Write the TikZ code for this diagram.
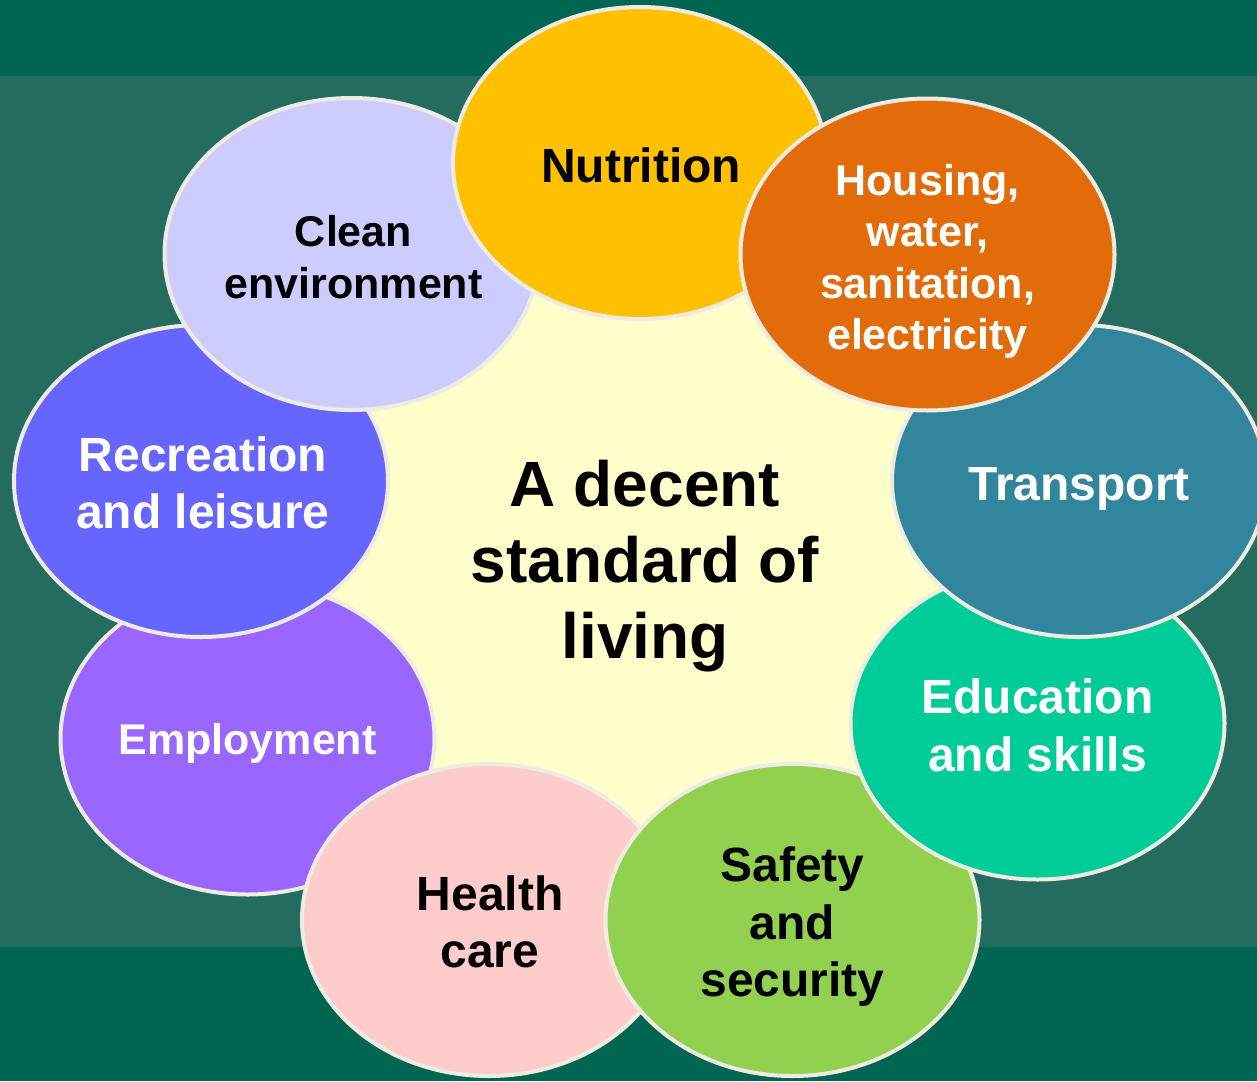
\documentclass[tikz,border=0pt]{standalone}
\usepackage{fontspec}
\setmainfont{Liberation Sans}
\usetikzlibrary{shapes.geometric}
\definecolor{bgdark}{HTML}{006652}
\definecolor{bgmid}{HTML}{236C5F}
\definecolor{rim}{HTML}{EEECE1}
\definecolor{cNut}{HTML}{FFC000}
\definecolor{cHou}{HTML}{E36C0A}
\definecolor{cTra}{HTML}{31859C}
\definecolor{cEdu}{HTML}{00CC99}
\definecolor{cSaf}{HTML}{92D050}
\definecolor{cHea}{HTML}{FFCCCC}
\definecolor{cEmp}{HTML}{9966FF}
\definecolor{cRec}{HTML}{6666FF}
\definecolor{cCle}{HTML}{CCCCFF}
\definecolor{cCen}{HTML}{FFFFCC}
\tikzset{
  petal/.style={ellipse, draw=rim, line width=4pt, minimum width=374pt, minimum height=312pt,
    inner sep=0pt},
  lbl/.style={align=center, inner sep=0pt, font=\bfseries\fontsize{48}{57.5}\selectfont},
  smalltext/.style={font=\bfseries\fontsize{43}{51.3}\selectfont},
  hub/.style={circle, fill=cCen, minimum size=760pt, inner sep=0pt}
}
\begin{document}
\begin{tikzpicture}[x=1pt,y=-1pt]
\useasboundingbox (0,0) rectangle (1257,1081);
\clip (0,0) rectangle (1257,1081);
\fill[bgdark] (0,0) rectangle (1257,1081);
\fill[bgmid] (0,76) rectangle (1257,947);
\node[hub] (hub) at (642,545) {};
\node[petal, fill=cEmp] (emp) at (247.5,738.5) {};
\node[lbl, smalltext, text=white] (empT) at ([yshift=-5pt]emp.center) {Employment};
\node[petal, fill=cHea] (hea) at (489,920) {};
\node[lbl, text=black] (heaT) at ([xshift=1pt,yshift=-2pt]hea.center) {Health\\care};
\node[petal, fill=cSaf] (saf) at (792.5,920) {};
\node[lbl, text=black] (safT) at ([yshift=-7pt]saf.center) {Safety\\and\\security};
\node[petal, fill=cEdu] (edu) at (1037.5,723.5) {};
\node[lbl, text=white] (eduT) at ([yshift=-2pt]edu.center) {Education\\and skills};
\node[petal, fill=cTra] (tra) at (1079,481) {};
\node[lbl, text=white] (traT) at ([yshift=-8pt]tra.center) {Transport};
\node[petal, fill=cRec] (rec) at (201,481) {};
\node[lbl, text=white] (recT) at ([xshift=2pt,yshift=-2pt]rec.center) {Recreation\\and leisure};
\node[petal, fill=cCle] (cle) at (351.5,254) {};
\node[lbl, smalltext, text=black] (cleT) at ([xshift=2pt,yshift=-3pt]cle.center) {Clean\\environment};
\node[petal, fill=cNut] (nut) at (640,163) {};
\node[lbl, text=black] (nutT) at ([xshift=1pt,yshift=-2pt]nut.center) {Nutrition};
\node[petal, fill=cHou] (hou) at (927.5,254.5) {};
\node[lbl, smalltext, text=white] (houT) at ([yshift=-7pt]hou.center) {Housing,\\water,\\sanitation,\\electricity};
\node[align=center, inner sep=0pt, font=\bfseries\fontsize{64}{76}\selectfont] (title) at (645,566) {A decent\\standard of\\living};
\end{tikzpicture}
\end{document}
